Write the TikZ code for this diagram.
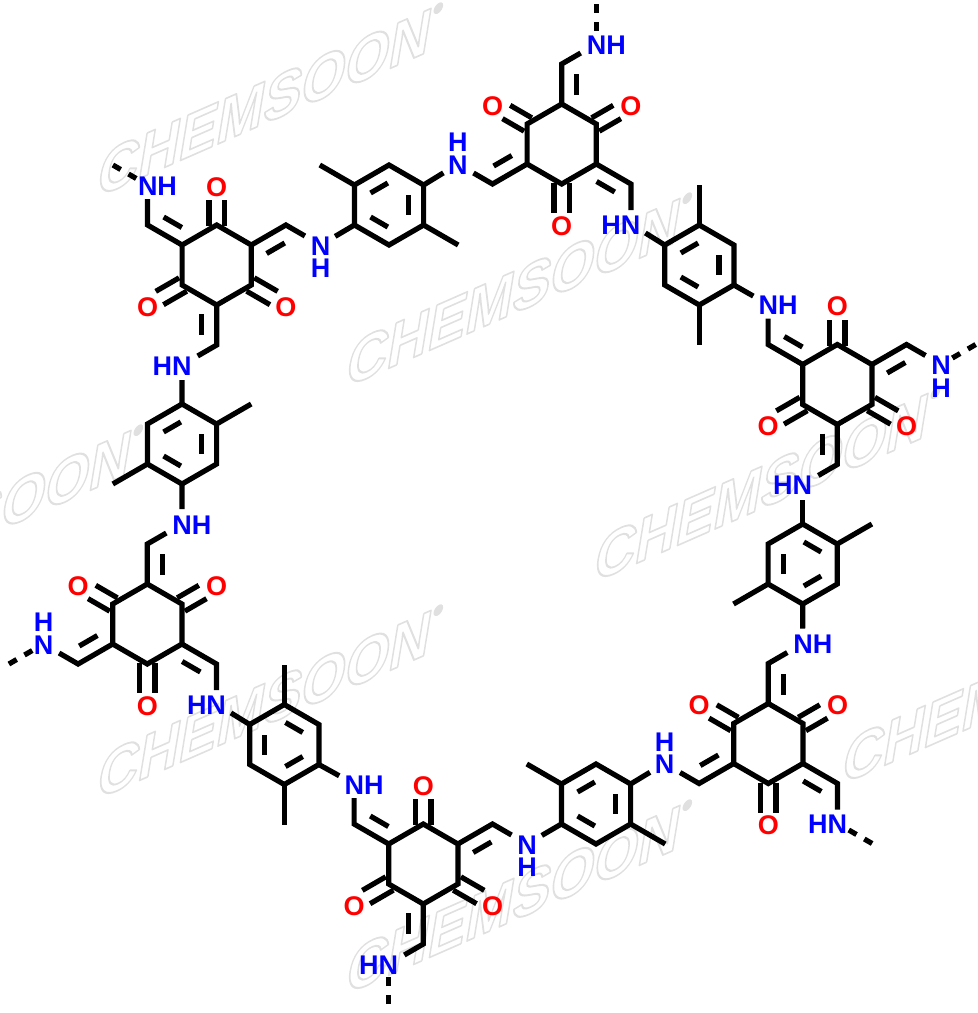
\documentclass[tikz,border=0pt]{standalone}
\usepackage{fontspec}
\setmainfont{Liberation Sans}
\usetikzlibrary{calc}
\definecolor{nblue}{RGB}{0,0,255}
\definecolor{ored}{RGB}{255,0,0}
\newcommand{\atomfont}{\bfseries\fontsize{27}{22.7}\selectfont}
\tikzset{
  bond/.style={line width=5.2pt,line join=miter,line cap=butt,draw=black},
  stubline/.style={line width=5.2pt,line cap=butt,draw=black,dash pattern=on 9pt off 9pt},
  nlabel/.style={font=\atomfont,text=nblue,inner sep=0pt,align=center},
  olabel/.style={font=\atomfont,text=ored,inner sep=0pt},
  wmark/.style={inner sep=0pt,anchor=base west,transform shape,rotate=23.7,xslant=0.65,xscale=1.10,font=\bfseries\fontsize{56}{56}\selectfont},
}
\newcommand{\hexpoints}[3]{%
  \coordinate (#1c) at (#2,#3);
  \coordinate (#1r1) at (#2,#3-40);
  \coordinate (#1r2) at (#2+34.6,#3-20);
  \coordinate (#1r3) at (#2+34.6,#3+20);
  \coordinate (#1r4) at (#2,#3+40);
  \coordinate (#1r5) at (#2-34.6,#3+20);
  \coordinate (#1r6) at (#2-34.6,#3-20);
  \draw[bond] (#1r1) -- (#1r2) -- (#1r3) -- (#1r4) -- (#1r5) -- (#1r6) -- cycle;}
\newcommand{\sidebranch}[4]{%
  \draw[bond,shorten >=#4] (#1) -- (#2) -- (#3);
  \draw[bond] ($(#1)!0.225!(#2)!15pt!-90:(#2)$) -- ($(#1)!0.75!(#2)!15pt!-90:(#2)$);}
\newcommand{\carbonyl}[3]{%
  \draw[bond] ($(#1)!-1pt!(#2)!7.7pt!90:(#2)$) -- ($(#1)!#3!(#2)!7.7pt!90:(#2)$);
  \draw[bond] ($(#1)!-1pt!(#2)!7.7pt!-90:(#2)$) -- ($(#1)!#3!(#2)!7.7pt!-90:(#2)$);}
\newcommand{\oxygen}[3]{%
  \coordinate (#1) at ($(#2)+#3$);
  \node[olabel] (#1t) at ($(#1)+(0,2)$) {O};}
\newcommand{\nhright}[1]{\node[nlabel,anchor=west] (#1t) at ($(#1)+(-9.7,1)$) {NH};}
\newcommand{\hnleft}[1]{\node[nlabel,anchor=east] (#1t) at ($(#1)+(9.7,1)$) {HN};}
\newcommand{\hnabove}[1]{\node[nlabel,anchor=south] (#1t) at ($(#1)+(0,10.6)$) {H\\N};}
\newcommand{\nhbelow}[1]{\node[nlabel,anchor=north] (#1t) at ($(#1)+(0,-8.6)$) {N\\H};}
\newcommand{\coreA}[3]{%
  \hexpoints{#1}{#2}{#3}
  \oxygen{#1O2}{#1r2}{(34.6,-20)}
  \oxygen{#1O4}{#1r4}{(0,40)}
  \oxygen{#1O6}{#1r6}{(-34.6,-20)}
  \carbonyl{#1r2}{#1O2}{24pt}
  \carbonyl{#1r4}{#1O4}{29pt}
  \carbonyl{#1r6}{#1O6}{24pt}
  \coordinate (#1C1) at ($(#1r1)+(0,-40)$);
  \coordinate (#1N1) at ($(#1C1)+(34.6,-20)$);
  \coordinate (#1C5) at ($(#1r5)+(-34.6,20)$);
  \coordinate (#1N5) at ($(#1C5)+(-34.6,-20)$);
  \coordinate (#1C3) at ($(#1r3)+(34.6,20)$);
  \coordinate (#1N3) at ($(#1C3)+(0,40)$);
  \sidebranch{#1r1}{#1C1}{#1N1}{18pt}
  \sidebranch{#1r5}{#1C5}{#1N5}{18pt}
  \sidebranch{#1r3}{#1C3}{#1N3}{14pt}
  \nhright{#1N1}
  \hnabove{#1N5}
  \hnleft{#1N3}}
\newcommand{\coreB}[3]{%
  \hexpoints{#1}{#2}{#3}
  \oxygen{#1O1}{#1r1}{(0,-40)}
  \oxygen{#1O3}{#1r3}{(34.6,20)}
  \oxygen{#1O5}{#1r5}{(-34.6,20)}
  \carbonyl{#1r1}{#1O1}{25pt}
  \carbonyl{#1r3}{#1O3}{26pt}
  \carbonyl{#1r5}{#1O5}{26pt}
  \coordinate (#1C6) at ($(#1r6)+(-34.6,-20)$);
  \coordinate (#1N6) at ($(#1C6)+(0,-40)$);
  \coordinate (#1C2) at ($(#1r2)+(34.6,-20)$);
  \coordinate (#1N2) at ($(#1C2)+(34.6,20)$);
  \coordinate (#1C4) at ($(#1r4)+(0,40)$);
  \coordinate (#1N4) at ($(#1C4)+(-34.6,20)$);
  \sidebranch{#1r6}{#1C6}{#1N6}{14pt}
  \sidebranch{#1r2}{#1C2}{#1N2}{18pt}
  \sidebranch{#1r4}{#1C4}{#1N4}{18pt}
  \nhright{#1N6}
  \nhbelow{#1N2}
  \hnleft{#1N4}}
\newcommand{\innerline}[2]{%
  \draw[bond] ($(#1)!0.25!(#2)!15pt!-90:(#2)$) -- ($(#1)!0.75!(#2)!15pt!-90:(#2)$);}
\newcommand{\arylP}[3]{% inner lines on r6-r1, r2-r3, r4-r5
  \hexpoints{#1}{#2}{#3}
  \innerline{#1r6}{#1r1}\innerline{#1r2}{#1r3}\innerline{#1r4}{#1r5}}
\newcommand{\arylQ}[3]{% inner lines on r1-r2, r3-r4, r5-r6
  \hexpoints{#1}{#2}{#3}
  \innerline{#1r1}{#1r2}\innerline{#1r3}{#1r4}\innerline{#1r5}{#1r6}}
\newcommand{\methyl}[3]{%
  \coordinate (#1) at ($(#2)+#3$);
  \draw[bond] (#2) -- (#1);}
\newcommand{\stub}[3]{%
  \coordinate (#1) at ($(#2)+#3$);
  \draw[stubline,shorten >=13pt] (#1) -- (#2);}
\newcommand{\wmtext}[3]{%
  \node[wmark] (#1) at (#2,#3) {\special{pdf:code 1 Tr 1.6 w 1 j 0.88 G}CHEMSOON\raisebox{32pt}{\fontsize{11}{11}\selectfont ®}\special{pdf:code 0 Tr 1 w 0 j 0 G}};}
\begin{document}
\begin{tikzpicture}[x=1pt,y=-1pt]
\useasboundingbox (0,0) rectangle (978,1013);
\begin{scope}
\clip (0,0) rectangle (978,1013);
\wmtext{w1}{95}{198}
\wmtext{w2}{344}{388}
\wmtext{w3}{592}{583}
\wmtext{w4}{-205}{620}
\wmtext{w5}{95}{800}
\wmtext{w6}{344}{995}
\wmtext{w7}{840}{785}
\end{scope}
\coreA{a}{561.7}{144}
\coreB{b}{216.7}{265}
\coreB{c}{837.3}{384.5}
\coreA{d}{147.3}{624}
\coreA{e}{768.3}{743.5}
\coreB{f}{423.3}{864}
\arylP{p}{389}{205}
\arylP{q}{699.3}{265}
\arylQ{s}{802.7}{564}
\arylP{t}{596}{804}
\arylQ{u}{284.3}{744.5}
\arylP{v}{182}{444}
\methyl{pm1}{pr6}{(-34.6,-20)}
\methyl{pm2}{pr3}{(34.6,20)}
\methyl{qm1}{qr1}{(0,-40)}
\methyl{qm2}{qr4}{(0,40)}
\methyl{sm1}{sr2}{(34.6,-20)}
\methyl{sm2}{sr5}{(-34.6,20)}
\methyl{tm1}{tr6}{(-34.6,-20)}
\methyl{tm2}{tr3}{(34.6,20)}
\methyl{um1}{ur1}{(0,-40)}
\methyl{um2}{ur4}{(0,40)}
\methyl{vm1}{vr2}{(34.6,-20)}
\methyl{vm2}{vr5}{(-34.6,20)}
\draw[bond,shorten >=17pt] (pr5) -- (bN2);
\draw[bond,shorten >=17pt] (pr2) -- (aN5);
\draw[bond,shorten >=17pt] (qr6) -- (aN3);
\draw[bond,shorten >=17pt] (qr3) -- (cN6);
\draw[bond,shorten >=15pt] (sr1) -- (cN4);
\draw[bond,shorten >=15pt] (sr4) -- (eN1);
\draw[bond,shorten >=17pt] (tr2) -- (eN5);
\draw[bond,shorten >=17pt] (tr5) -- (fN2);
\draw[bond,shorten >=17pt] (ur3) -- (fN6);
\draw[bond,shorten >=17pt] (ur6) -- (dN3);
\draw[bond,shorten >=15pt] (vr1) -- (bN4);
\draw[bond,shorten >=15pt] (vr4) -- (dN1);
\stub{x1}{aN1}{(0,-40)}
\stub{x2}{bN6}{(-34.6,-20)}
\stub{x3}{cN2}{(34.6,-20)}
\stub{x4}{dN5}{(-34.6,20)}
\stub{x5}{eN3}{(34.6,20)}
\stub{x6}{fN4}{(0,40)}
\end{tikzpicture}
\end{document}
